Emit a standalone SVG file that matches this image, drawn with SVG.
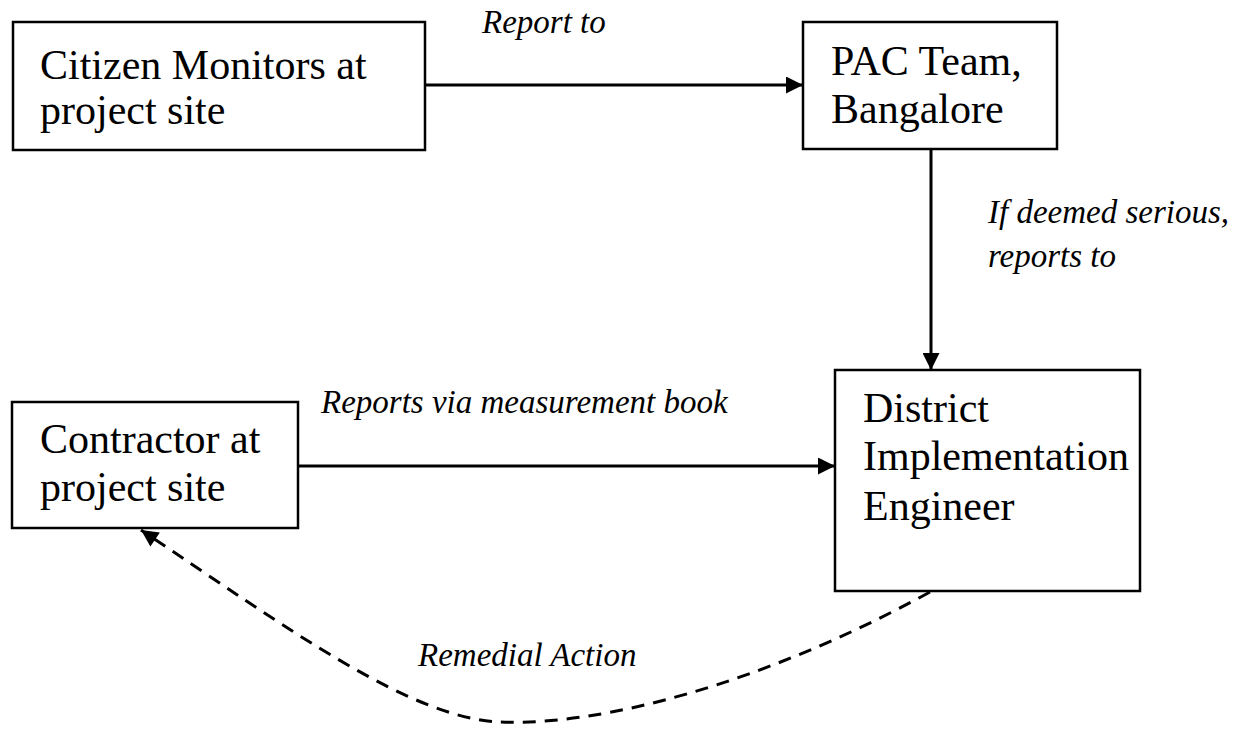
<svg xmlns="http://www.w3.org/2000/svg" width="1245" height="754" viewBox="0 0 1245 754">
<style>
.box{fill:#fff;stroke:#000;stroke-width:2.5}
.t{font-family:'Liberation Serif','DejaVu Serif',serif;font-size:42px;fill:#000}
.l{font-family:'Liberation Serif','DejaVu Serif',serif;font-size:33px;font-style:italic;fill:#000}
.c{fill:none;stroke:#000;stroke-width:3}
.d{fill:none;stroke:#000;stroke-width:3;stroke-dasharray:13 9}
</style>
<defs>
<marker id="ah" viewBox="0 0 10 10" refX="10" refY="5" markerWidth="20" markerHeight="17" markerUnits="userSpaceOnUse" orient="auto">
<path d="M0,0 L10,5 L0,10 z" fill="#000"/>
</marker>
</defs>
<rect width="1245" height="754" fill="#fff"/>
<g id="connectors">
<line class="c" x1="425" y1="85" x2="803" y2="85" marker-end="url(#ah)"/>
<line class="c" x1="931" y1="149" x2="931" y2="370" marker-end="url(#ah)"/>
<line class="c" x1="298" y1="466" x2="835" y2="466" marker-end="url(#ah)"/>
<path class="d" d="M930,592 C760,685 600,726 500,722 C410,718 290,630 141,530" marker-end="url(#ah)"/>
<text class="l" font-family="Liberation Serif, serif" x="482" y="33">Report to</text>
<text class="l" font-family="Liberation Serif, serif" x="988" y="223">If deemed serious,</text>
<text class="l" font-family="Liberation Serif, serif" x="988" y="267">reports to</text>
<text class="l" font-family="Liberation Serif, serif" x="321" y="413">Reports via measurement book</text>
<text class="l" font-family="Liberation Serif, serif" x="418" y="666">Remedial Action</text>
</g>
<g id="citizen">
<rect class="box" x="13" y="22" width="412" height="128"/>
<text class="t" font-family="Liberation Serif, serif" x="40" y="79">Citizen Monitors at</text>
<text class="t" font-family="Liberation Serif, serif" x="40" y="124">project site</text>
</g>
<g id="pac">
<rect class="box" x="803" y="22" width="254" height="127"/>
<text class="t" font-family="Liberation Serif, serif" x="831" y="75">PAC Team,</text>
<text class="t" font-family="Liberation Serif, serif" x="831" y="123">Bangalore</text>
</g>
<g id="contractor">
<rect class="box" x="12" y="402" width="286" height="126"/>
<text class="t" font-family="Liberation Serif, serif" x="40" y="453">Contractor at</text>
<text class="t" font-family="Liberation Serif, serif" x="40" y="501">project site</text>
</g>
<g id="die">
<rect class="box" x="835" y="370" width="305" height="221"/>
<text class="t" font-family="Liberation Serif, serif" x="863" y="422">District</text>
<text class="t" font-family="Liberation Serif, serif" x="863" y="470">Implementation</text>
<text class="t" font-family="Liberation Serif, serif" x="863" y="520">Engineer</text>
</g>
</svg>
